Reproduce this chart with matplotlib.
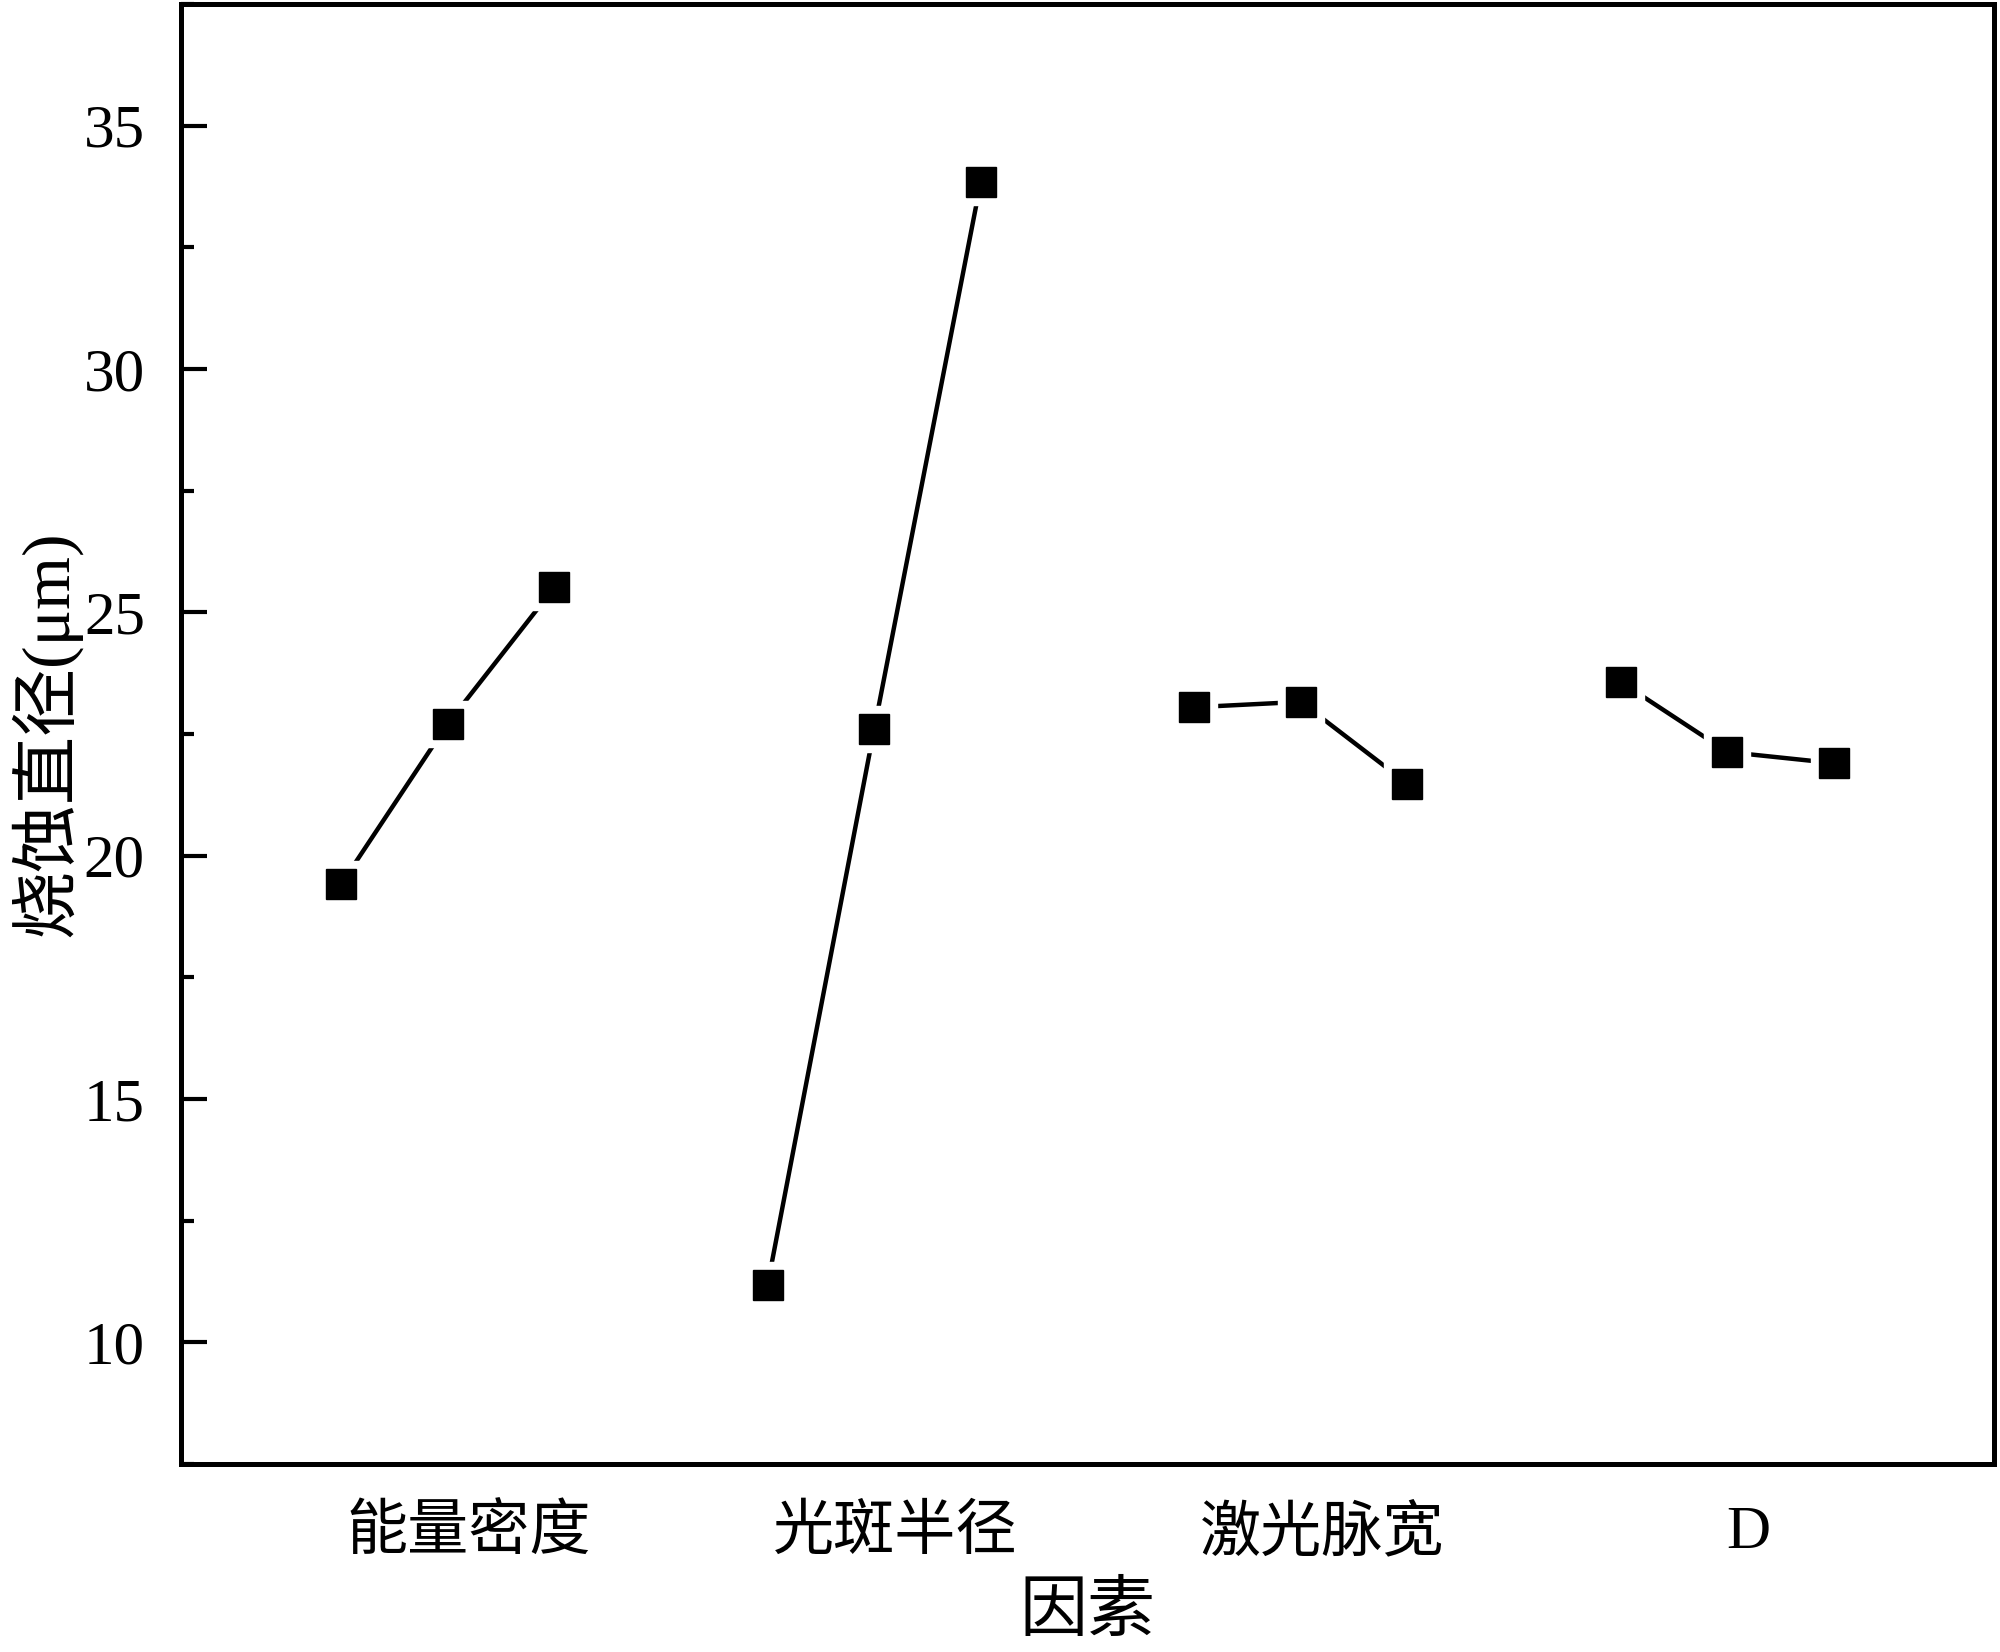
import matplotlib
matplotlib.use("Agg")
import matplotlib.pyplot as plt
from matplotlib.ticker import MultipleLocator

plt.rcParams['font.family'] = ['Liberation Serif', 'Noto Sans CJK SC', 'DejaVu Sans']
plt.rcParams['mathtext.fontset'] = 'stix'

factors = ['能量密度', '光斑半径', '激光脉宽', 'D']
level_x = [[1, 2, 3], [5, 6, 7], [9, 10, 11], [13, 14, 15]]
values = [
    [19.41, 22.71, 25.51],
    [11.18, 22.60, 33.85],
    [23.05, 23.16, 21.48],
    [23.57, 22.13, 21.90],
]
label_x = [2.2, 6.2, 10.2, 14.2]

fig = plt.figure(figsize=(20, 16.52), dpi=100)
ax = fig.add_axes([0.0905, 0.1138, 0.9065, 0.8838])

for xs, ys in zip(level_x, values):
    ax.plot(xs, ys, color='black', lw=3.2, zorder=2, solid_capstyle='round')
    ax.plot(xs, ys, ls='none', marker='s', ms=33, mfc='white', mec='white', zorder=3)
    ax.plot(xs, ys, ls='none', marker='s', ms=22, mfc='black', mec='black', zorder=4)

ax.set_xlim(-0.5, 16.5)
ax.set_ylim(7.5, 37.5)
ax.yaxis.set_major_locator(MultipleLocator(5))
ax.yaxis.set_minor_locator(MultipleLocator(2.5))
ax.set_xticks(label_x)
ax.set_xticklabels(factors)

for s in ax.spines.values():
    s.set_linewidth(3.6)

ax.tick_params(axis='y', which='major', direction='in', length=19, width=3, labelsize=44, pad=26)
ax.tick_params(axis='y', which='minor', direction='in', length=9, width=3)
ax.tick_params(axis='x', which='both', length=0, labelsize=44, pad=30)

ax.set_xlabel('因素', fontsize=49, labelpad=14)
ax.set_ylabel('烧蚀直径(μm)', fontsize=49, labelpad=2)

fig.savefig('out.png', dpi=100)
